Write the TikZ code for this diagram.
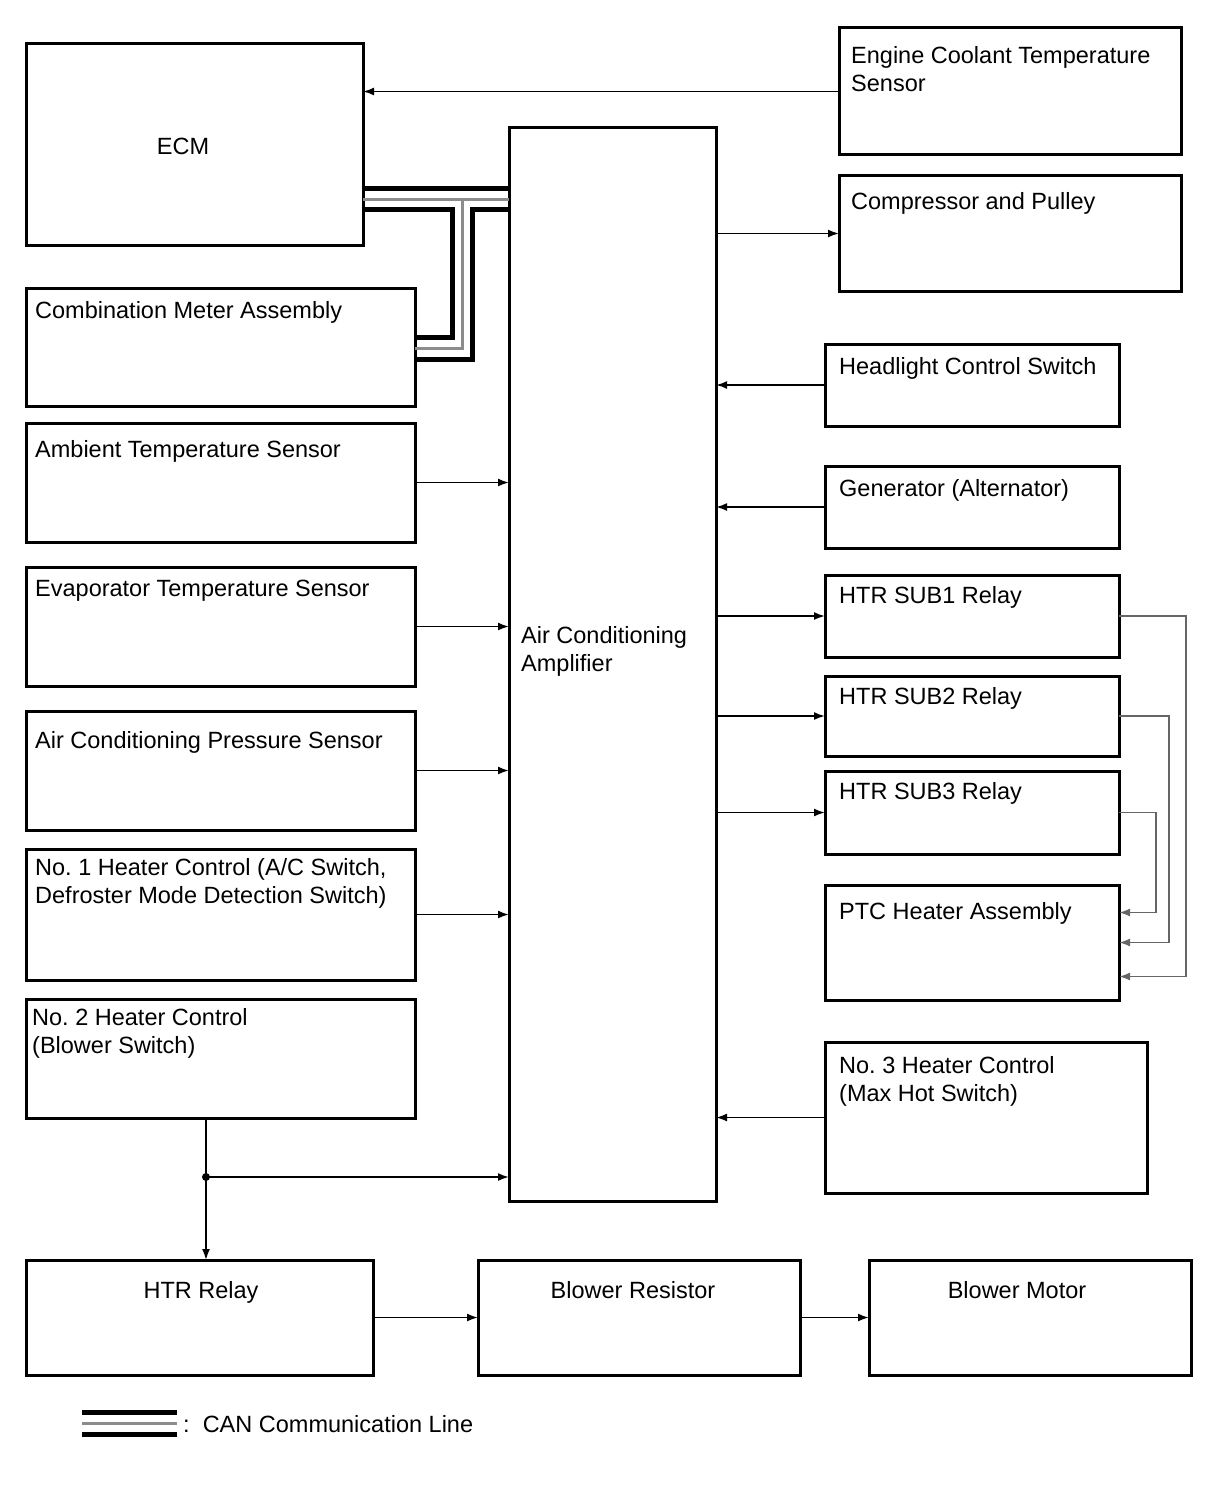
\documentclass[tikz,border=0pt]{standalone}
\usepackage{fontspec}
\setmainfont{Liberation Sans}
\usetikzlibrary{arrows.meta}
\frenchspacing

\begin{document}
\begin{tikzpicture}[x=1pt, y=-1pt, font=\fontsize{23.5}{28}\selectfont,
  blk/.style={draw, line width=3pt, anchor=north west, outer sep=0pt, inner sep=0pt},
  txt/.style={anchor=north west, align=left, inner sep=0pt},
  ctr/.style={anchor=north, inner sep=0pt},
  ln/.style={line width=1.8pt, -{Latex[length=11pt,width=8pt]}},
  rl/.style={ln, draw=black!60},
  canb/.style={line width=5pt},
  cang/.style={line width=3pt, draw=black!45}]
  \useasboundingbox (0,0) rectangle (1210,1498);

  \node[blk, minimum width=337pt, minimum height=201pt] (ecm) at (26,44) {};
  \node[blk, minimum width=342pt, minimum height=127pt] (ect) at (839,28) {};
  \node[blk, minimum width=342pt, minimum height=115pt] (cps) at (839,176) {};
  \node[blk, minimum width=207pt, minimum height=1073pt] (amp) at (509,128) {};
  \node[blk, minimum width=389pt, minimum height=118pt] (cma) at (26,288) {};
  \node[blk, minimum width=389pt, minimum height=119pt] (ats) at (26,423) {};
  \node[blk, minimum width=389pt, minimum height=119pt] (ets) at (26,567) {};
  \node[blk, minimum width=389pt, minimum height=119pt] (aps) at (26,711) {};
  \node[blk, minimum width=389pt, minimum height=131pt] (hc1) at (26,849) {};
  \node[blk, minimum width=389pt, minimum height=119pt] (hc2) at (26,999) {};
  \node[blk, minimum width=294pt, minimum height=82pt] (hcs) at (825,344) {};
  \node[blk, minimum width=294pt, minimum height=82pt] (gen) at (825,466) {};
  \node[blk, minimum width=294pt, minimum height=82pt] (sub1) at (825,575) {};
  \node[blk, minimum width=294pt, minimum height=80pt] (sub2) at (825,676) {};
  \node[blk, minimum width=294pt, minimum height=83pt] (sub3) at (825,771) {};
  \node[blk, minimum width=294pt, minimum height=115pt] (ptc) at (825,885) {};
  \node[blk, minimum width=322pt, minimum height=151pt] (hc3) at (825,1042) {};
  \node[blk, minimum width=347pt, minimum height=115pt] (htr) at (26,1260) {};
  \node[blk, minimum width=322pt, minimum height=115pt] (brs) at (478,1260) {};
  \node[blk, minimum width=322pt, minimum height=115pt] (bmt) at (869,1260) {};

  \node[inner sep=0pt] (ecm-t) at (183,146) {ECM};
  \node[txt] (ect-t) at (851,46) {Engine Coolant Temperature\\Sensor};
  \node[txt] (cps-t) at (851,192) {Compressor and Pulley};
  \node[txt] (amp-t) at (521,626) {Air Conditioning\\Amplifier};
  \node[txt] (cma-t) at (35,301) {Combination Meter Assembly};
  \node[txt] (ats-t) at (35,440) {Ambient Temperature Sensor};
  \node[txt] (ets-t) at (35,580) {Evaporator Temperature Sensor};
  \node[txt] (aps-t) at (35,731) {Air Conditioning Pressure Sensor};
  \node[txt] (hc1-t) at (35,858) {No. 1 Heater Control (A/C Switch,\\Defroster Mode Detection Switch)};
  \node[txt] (hc2-t) at (32,1008) {No. 2 Heater Control\\(Blower Switch)};
  \node[txt] (hcs-t) at (839,357) {Headlight Control Switch};
  \node[txt] (gen-t) at (839,479) {Generator (Alternator)};
  \node[txt] (sub1-t) at (839,586) {HTR SUB1 Relay};
  \node[txt] (sub2-t) at (839,687) {HTR SUB2 Relay};
  \node[txt] (sub3-t) at (839,782) {HTR SUB3 Relay};
  \node[txt] (ptc-t) at (839,902) {PTC Heater Assembly};
  \node[txt] (hc3-t) at (839,1056) {No. 3 Heater Control\\(Max Hot Switch)};
  \node[ctr] (htr-t) at (201,1281) {HTR Relay};
  \node[ctr] (brs-t) at (633,1281) {Blower Resistor};
  \node[ctr] (bmt-t) at (1017,1281) {Blower Motor};

  \draw[ln] (ect.west) -- (ect.west -| ecm.east);
  \draw[ln] (amp.east |- cps.west) -- (cps.west);
  \draw[ln] (ats.east) -- (ats.east -| amp.west);
  \draw[ln] (ets.east) -- (ets.east -| amp.west);
  \draw[ln] (aps.east) -- (aps.east -| amp.west);
  \draw[ln] (hc1.east) -- (hc1.east -| amp.west);
  \draw[ln] (hcs.west) -- (hcs.west -| amp.east);
  \draw[ln] (gen.west) -- (gen.west -| amp.east);
  \draw[ln] (amp.east |- sub1.west) -- (sub1.west);
  \draw[ln] (amp.east |- sub2.west) -- (sub2.west);
  \draw[ln] (amp.east |- sub3.west) -- (sub3.west);
  \draw[ln] (hc3.west) -- (hc3.west -| amp.east);
  \draw[rl] (sub1.east) -- ++(67,0) |- ([yshift=-34pt]ptc.east);
  \draw[rl] (sub2.east) -- ++(50,0) |- (ptc.east);
  \draw[rl] (sub3.east) -- ++(37,0) |- ([yshift=30pt]ptc.east);

  \coordinate (jn) at (206,1177);
  \draw[ln] (jn |- hc2.south) -- (jn |- htr.north);
  \draw[ln] (jn) -- (jn -| amp.west);
  \fill (jn) circle (4pt);
  \draw[ln] (htr.east) -- (htr.east -| brs.west);
  \draw[ln] (brs.east) -- (bmt.west);

  \coordinate (bt) at (0,189);
  \coordinate (gj) at (462,199); \coordinate (gk) at (462,348);
  \coordinate (lj) at (452,209); \coordinate (lk) at (452,337);
  \coordinate (rj) at (472,209); \coordinate (rk) at (472,359);
  \draw[canb] (ecm.east |- bt) -- (amp.west |- bt);
  \draw[cang] (ecm.east |- gj) -- (amp.west |- gj) (gj) -- (gk) -- (cma.east |- gk);
  \draw[canb] (ecm.east |- lj) -- (lj) -- (lk) -- (cma.east |- lk);
  \draw[canb] (amp.west |- rj) -- (rj) -- (rk) -- (cma.east |- rk);

  \draw[canb] (82,1412) -- (177,1412);
  \draw[cang] (82,1423) -- (177,1423);
  \draw[canb] (82,1434) -- (177,1434);
  \node[anchor=west, inner sep=0pt] (lgd) at (183,1424) {:\ \ CAN Communication Line};
\end{tikzpicture}
\end{document}
